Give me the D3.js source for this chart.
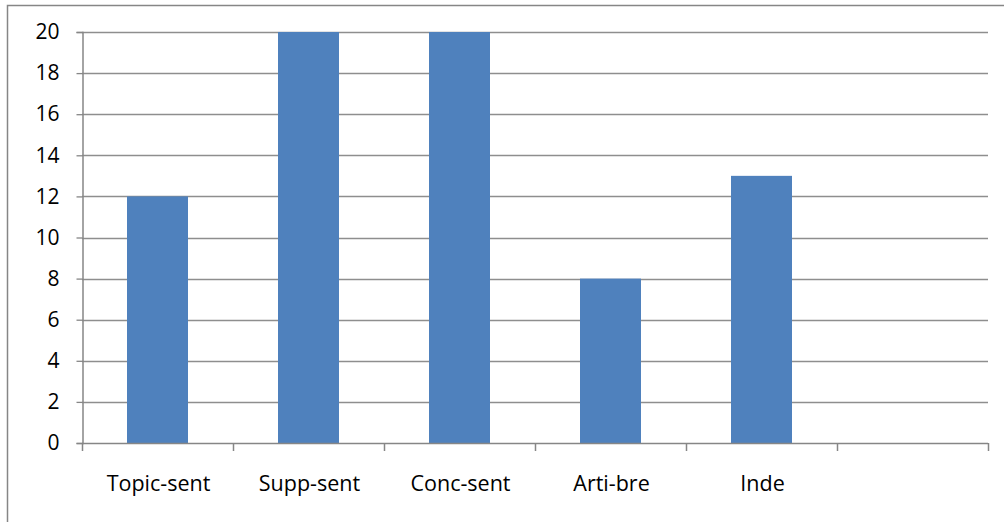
<!DOCTYPE html>
<html>
<head>
<meta charset="utf-8">
<script src="https://cdn.jsdelivr.net/npm/d3@7"></script>
<style>
  html, body { margin: 0; padding: 0; background: #fff; }
  svg { display: block; }
  text { font-family: "Open Sans", Lato, sans-serif; fill: #000; }
</style>
</head>
<body>
<svg id="chart" width="1004" height="522"></svg>
<script>
// Counts per sentence/paragraph category (last slot is empty)
const categories = ["Topic-sent", "Supp-sent", "Conc-sent", "Arti-bre", "Inde", ""];
const counts = [12, 20, 20, 8, 13, null];
const yTicks = [0, 2, 4, 6, 8, 10, 12, 14, 16, 18, 20];

const W = 1004, H = 522;
const plot = { left: 82, right: 988, top: 32, bottom: 443 };

const svg = d3.select("#chart");

// chart area frame
svg.append("rect")
  .attr("x", 7.5).attr("y", 5.5)
  .attr("width", W + 20).attr("height", H + 20)
  .attr("fill", "none")
  .attr("stroke", "#868686")
  .attr("stroke-width", 1.5);

const x = d3.scaleBand()
  .domain(categories.map((c, i) => i))
  .range([plot.left, plot.right])
  .paddingInner(0).paddingOuter(0);

const y = d3.scaleLinear()
  .domain([0, 20])
  .range([plot.bottom, plot.top]);

// horizontal gridlines
svg.append("g")
  .selectAll("line")
  .data(yTicks.filter(t => t > 0))
  .join("line")
  .attr("x1", plot.left).attr("x2", plot.right)
  .attr("y1", d => Math.round(y(d)) + 0.5)
  .attr("y2", d => Math.round(y(d)) + 0.5)
  .attr("stroke", "#8e8e8e")
  .attr("stroke-width", 1.3);

// bars
const barW = 61;
svg.append("g")
  .selectAll("rect")
  .data(counts.map((v, i) => ({ v, i })).filter(d => d.v != null))
  .join("rect")
  .attr("x", d => x(d.i) + x.bandwidth() / 2 - barW / 2)
  .attr("y", d => y(d.v))
  .attr("width", barW)
  .attr("height", d => y(0) - y(d.v))
  .attr("fill", "#4f81bd");

// y axis
const yAxis = d3.axisLeft(y)
  .tickValues(yTicks)
  .tickSize(6)
  .tickPadding(17)
  .tickFormat(d3.format("d"));

const gy = svg.append("g")
  .attr("transform", `translate(${plot.left + 0.5},0)`)
  .call(yAxis);
gy.select(".domain").attr("stroke", "#868686").attr("stroke-width", 1.5);
gy.selectAll(".tick line").attr("stroke", "#868686").attr("stroke-width", 1.3);
gy.selectAll(".tick text")
  .style("font-size", "21px")
  .attr("fill", "#000")
  .style("font-family", "'Open Sans', sans-serif");

// x axis: tick marks at category boundaries
const bounds = d3.range(categories.length + 1).map(i => plot.left + i * x.bandwidth());
const gx = svg.append("g");
gx.append("line")
  .attr("x1", plot.left).attr("x2", plot.right)
  .attr("y1", plot.bottom + 0.5).attr("y2", plot.bottom + 0.5)
  .attr("stroke", "#868686").attr("stroke-width", 1.5);
gx.selectAll("line.tk")
  .data(bounds)
  .join("line")
  .attr("class", "tk")
  .attr("x1", d => Math.round(d) + 0.5).attr("x2", d => Math.round(d) + 0.5)
  .attr("y1", plot.bottom).attr("y2", plot.bottom + 8)
  .attr("stroke", "#868686").attr("stroke-width", 1.5);

gx.selectAll("text")
  .data(categories)
  .join("text")
  .attr("x", (d, i) => x(i) + x.bandwidth() / 2 + 1)
  .attr("y", 491)
  .attr("text-anchor", "middle")
  .style("font-size", "21.5px")
  .text(d => d);
</script>
</body>
</html>
